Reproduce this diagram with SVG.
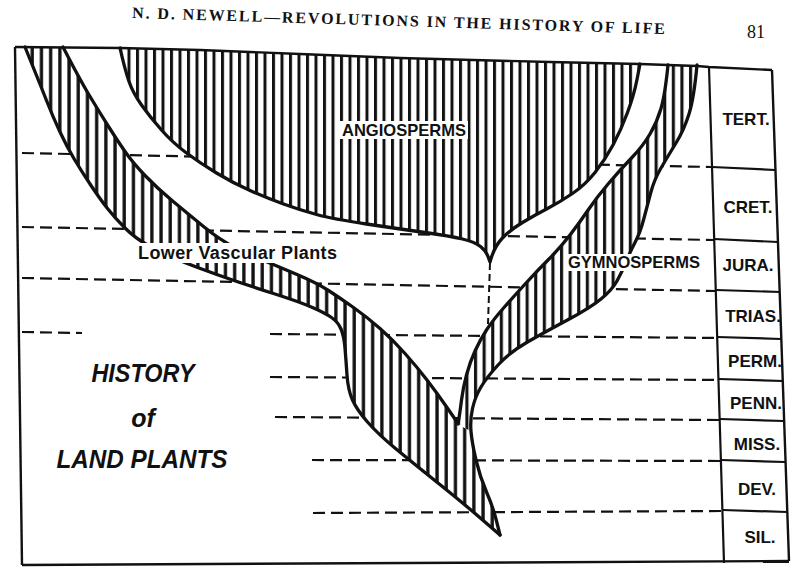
<svg xmlns="http://www.w3.org/2000/svg" width="792" height="570" viewBox="0 0 792 570">
<defs>
<pattern id="hatchA" patternUnits="userSpaceOnUse" width="8.5" height="20">
<rect width="8.5" height="20" fill="#fff"/>
<rect x="0" width="3" height="20" fill="#111"/>
</pattern>
<pattern id="hatchB" patternUnits="userSpaceOnUse" width="9.2" height="20">
<rect width="9.2" height="20" fill="#fff"/>
<rect x="3" width="3.3" height="20" fill="#111"/>
</pattern>
<pattern id="hatchC" patternUnits="userSpaceOnUse" width="8.6" height="20">
<rect width="8.6" height="20" fill="#fff"/>
<rect x="1" width="3.1" height="20" fill="#111"/>
</pattern>
<style>
.frame{fill:none;stroke:#111;stroke-width:2.4;stroke-linejoin:round}
.col{fill:none;stroke:#111;stroke-width:2.2}
.dash{fill:none;stroke:#111;stroke-width:2.2;stroke-dasharray:12 6}
.stemdash{fill:none;stroke:#111;stroke-width:2;stroke-dasharray:7 4}
.edge{fill:none;stroke:#111;stroke-width:3.3;stroke-linejoin:round;stroke-linecap:round}
.lbl{font-family:"Liberation Sans",Arial,sans-serif;font-weight:bold;font-size:17px;fill:#111}
.per{font-family:"Liberation Sans",Arial,sans-serif;font-weight:bold;font-size:17px;fill:#111;text-anchor:middle}
.title{font-family:"Liberation Sans",Arial,sans-serif;font-weight:bold;font-style:italic;font-size:25px;fill:#111;text-anchor:middle}
.hdr{font-family:"Liberation Serif","Times New Roman",serif;font-weight:bold;font-size:16px;fill:#111}
.halo{fill:#fff}
</style>
</defs>
<rect width="792" height="570" fill="#fff"/>

<g id="header">
<text class="hdr" x="132" y="18" transform="rotate(1.72 132 18)" textLength="533" lengthAdjust="spacing">N. D. NEWELL—REVOLUTIONS IN THE HISTORY OF LIFE</text>
<text class="hdr" x="747" y="38" style="font-size:18px;font-weight:normal">81</text>
</g>

<g id="period-boundaries">
<line class="dash" x1="22" y1="153" x2="711" y2="167"/>
<line class="dash" x1="22" y1="227" x2="714" y2="240"/>
<line class="dash" x1="22" y1="278" x2="716" y2="291"/>
<line class="dash" x1="22" y1="332" x2="82" y2="333"/>
<line class="dash" x1="270" y1="334" x2="717" y2="338"/>
<line class="dash" x1="270" y1="377" x2="719" y2="380"/>
<line class="dash" x1="275" y1="417" x2="720" y2="420"/>
<line class="dash" x1="312" y1="460" x2="721" y2="461"/>
<line class="dash" x1="313" y1="513" x2="723" y2="511"/>
</g>

<g id="lower-vascular-plants">
<path fill="url(#hatchB)" d="M25,47 Q40,84 46.5,100.5 Q53,117 60,132 Q67,147 74.5,159.5 Q82,172 91,185.5 Q100,199 107.5,208.5 Q115,218 125,228 Q135,238 147.5,245 Q160,252 171.5,257 Q183,262 199,268 Q215,274 232.5,280 Q250,286 275,294 Q300,302 312.5,307.5 Q325,313 331.5,317.5 Q338,322 341,329 Q344,336 345,348 Q346,360 347,375 Q348,390 352.5,400 Q357,410 367.5,422 Q378,434 395.5,448.5 Q413,463 438,483 Q463,503 481.5,519 L500,535 L496.5,521 Q493,507 486.5,492 Q480,477 476,460 Q472,443 471,431.5 L458,424 L457,422 L447,407.5 Q437,393 427,380 Q417,367 405,353.5 Q393,340 380,328.5 Q367,317 353.5,307.5 Q340,298 328.5,290.5 Q317,283 297,274.5 Q277,266 263.5,260.5 Q250,255 235,247.5 Q220,240 203.5,226.5 Q187,213 172,200.5 Q157,188 145,175.5 Q133,163 125,151.5 Q117,140 108.5,126.5 Q100,113 90,96.5 Q80,80 63,47 Z"/>
</g>

<g id="gymnosperms">
<path fill="url(#hatchC)" d="M668,65 Q665,95 661,108.5 Q657,122 650,134 Q643,146 631.5,158 Q620,170 608.5,183.5 Q597,197 588.5,209.5 Q580,222 570,235 Q560,248 549,259 Q538,270 526.5,282.5 Q515,295 504,307.5 Q493,320 486.5,330 Q480,340 475,351 Q470,362 466.5,375 Q463,388 461.5,400 Q460,412 459,418 L458,424 L471,431.5 Q470,420 472.5,408.5 Q475,397 481,387 Q487,377 498.5,364.5 Q510,352 527.5,342 Q545,332 567.5,320 Q590,308 601,299 Q612,290 617,281 Q622,272 626,262 Q630,252 635,242.5 Q640,233 643.5,220 Q647,207 650.5,193.5 Q654,180 661,168 Q668,156 676,143 Q684,130 689,114 Q694,98 697,65 Z"/>
</g>

<g id="angiosperms">
<path fill="url(#hatchA)" d="M120,48 Q125,70 129,81.5 Q133,93 141.5,105 Q150,117 161.5,130 Q173,143 186.5,153 Q200,163 216.5,173 Q233,183 250,190.5 Q267,198 283.5,204 Q300,210 316.5,214.5 Q333,219 366.5,224 Q400,229 425,232.5 Q450,236 462.5,239 Q475,242 480.5,246.5 Q486,251 488,256.5 L490,262 Q494,247 502,238.5 Q510,230 522.5,222.5 Q535,215 547.5,208.5 Q560,202 572.5,193.5 Q585,185 595,172.5 Q605,160 613,145 Q621,130 627.5,112.5 Q634,95 637,79.5 L640,64 L550,62 L400,58 L300,54 L200,50 Z"/>
</g>

<g id="lineage-outlines">
<path class="edge" d="M25,47 Q40,84 46.5,100.5 Q53,117 60,132 Q67,147 74.5,159.5 Q82,172 91,185.5 Q100,199 107.5,208.5 Q115,218 125,228 Q135,238 147.5,245 Q160,252 171.5,257 Q183,262 199,268 Q215,274 232.5,280 Q250,286 275,294 Q300,302 312.5,307.5 Q325,313 331.5,317.5 Q338,322 341,329 Q344,336 345,348 Q346,360 347,375 Q348,390 352.5,400 Q357,410 367.5,422 Q378,434 395.5,448.5 Q413,463 438,483 Q463,503 481.5,519 L500,535"/>
<path class="edge" d="M63,47 Q80,80 90,96.5 Q100,113 108.5,126.5 Q117,140 125,151.5 Q133,163 145,175.5 Q157,188 172,200.5 Q187,213 203.5,226.5 Q220,240 235,247.5 Q250,255 263.5,260.5 Q277,266 297,274.5 Q317,283 328.5,290.5 Q340,298 353.5,307.5 Q367,317 380,328.5 Q393,340 405,353.5 Q417,367 427,380 Q437,393 447,407.5 L457,422"/>
<path class="edge" d="M668,65 Q665,95 661,108.5 Q657,122 650,134 Q643,146 631.5,158 Q620,170 608.5,183.5 Q597,197 588.5,209.5 Q580,222 570,235 Q560,248 549,259 Q538,270 526.5,282.5 Q515,295 504,307.5 Q493,320 486.5,330 Q480,340 475,351 Q470,362 466.5,375 Q463,388 461.5,400 Q460,412 459,418 L458,424"/>
<path class="edge" d="M697,65 Q694,98 689,114 Q684,130 676,143 Q668,156 661,168 Q654,180 650.5,193.5 Q647,207 643.5,220 Q640,233 635,242.5 Q630,252 626,262 Q622,272 617,281 Q612,290 601,299 Q590,308 567.5,320 Q545,332 527.5,342 Q510,352 498.5,364.5 Q487,377 481,387 Q475,397 472.5,408.5 Q470,420 471,431.5 Q472,443 476,460 Q480,477 486.5,492 Q493,507 496.5,521 L500,535"/>
<path class="edge" d="M120,48 Q125,70 129,81.5 Q133,93 141.5,105 Q150,117 161.5,130 Q173,143 186.5,153 Q200,163 216.5,173 Q233,183 250,190.5 Q267,198 283.5,204 Q300,210 316.5,214.5 Q333,219 366.5,224 Q400,229 425,232.5 Q450,236 462.5,239 Q475,242 480.5,246.5 Q486,251 488,256.5 L490,262 Q494,247 502,238.5 Q510,230 522.5,222.5 Q535,215 547.5,208.5 Q560,202 572.5,193.5 Q585,185 595,172.5 Q605,160 613,145 Q621,130 627.5,112.5 Q634,95 637,79.5 L640,64"/>
<line class="stemdash" x1="490" y1="263" x2="488" y2="324"/>
</g>

<g id="lineage-labels">
<rect class="halo" x="340" y="121" width="128" height="18"/>
<text class="lbl" x="342" y="136" textLength="124" lengthAdjust="spacingAndGlyphs">ANGIOSPERMS</text>
<rect class="halo" x="135" y="243" width="205" height="20"/>
<text class="lbl" x="138" y="259" style="font-size:18px" textLength="199" lengthAdjust="spacing">Lower Vascular Plants</text>
<rect class="halo" x="565" y="254" width="138" height="17"/>
<text class="lbl" x="568" y="268" textLength="132" lengthAdjust="spacingAndGlyphs">GYMNOSPERMS</text>
</g>

<g id="title">
<text class="title" x="143" y="382" textLength="103" lengthAdjust="spacingAndGlyphs">HISTORY</text>
<text class="title" x="143" y="427">of</text>
<text class="title" x="142" y="468" textLength="171" lengthAdjust="spacingAndGlyphs">LAND PLANTS</text>
</g>

<g id="frame">
<polyline class="frame" points="15,47 120,48 200,50 300,54 400,58 550,62 640,64 668,65 697,66 709,67 772,70"/>
<line class="frame" x1="15" y1="47" x2="22" y2="565"/>
<line class="frame" x1="22" y1="565" x2="789" y2="561"/>
<line class="frame" x1="772" y1="70" x2="789" y2="561"/>
</g>

<g id="time-scale">
<line class="col" x1="709" y1="67" x2="724" y2="563"/>
<line class="col" x1="712" y1="167" x2="775" y2="170"/>
<line class="col" x1="714" y1="239" x2="778" y2="242"/>
<line class="col" x1="716" y1="290" x2="780" y2="292"/>
<line class="col" x1="717" y1="337" x2="781" y2="339"/>
<line class="col" x1="719" y1="379" x2="783" y2="381"/>
<line class="col" x1="720" y1="419" x2="784" y2="421"/>
<line class="col" x1="721" y1="460" x2="785" y2="462"/>
<line class="col" x1="723" y1="510" x2="787" y2="512"/>
<text class="per" x="746" y="125">TERT.</text>
<text class="per" x="748" y="213">CRET.</text>
<text class="per" x="748" y="271">JURA.</text>
<text class="per" x="753" y="322">TRIAS.</text>
<text class="per" x="755" y="367">PERM.</text>
<text class="per" x="756" y="409">PENN.</text>
<text class="per" x="757" y="450">MISS.</text>
<text class="per" x="757" y="495">DEV.</text>
<text class="per" x="760" y="543">SIL.</text>
</g>
</svg>
